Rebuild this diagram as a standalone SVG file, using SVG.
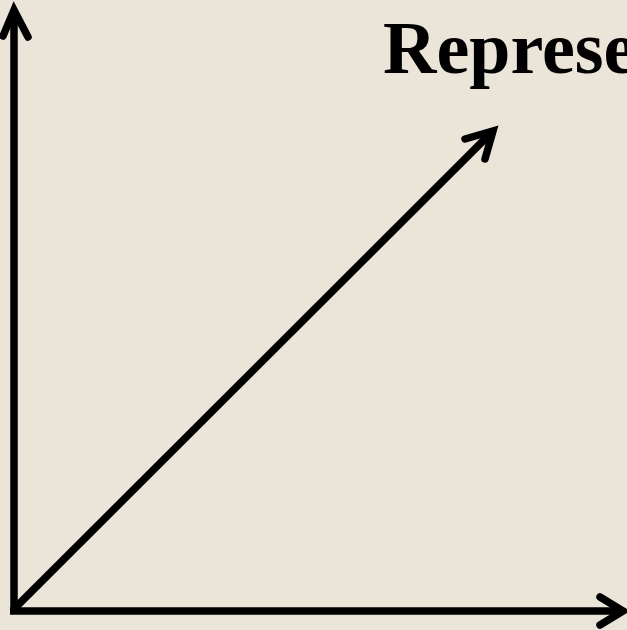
<svg xmlns="http://www.w3.org/2000/svg" width="627" height="630" viewBox="0 0 627 630">
<style>
.ax{stroke:#000;stroke-width:7.5;fill:none;stroke-linecap:round;stroke-linejoin:miter}
.t{font-family:"Liberation Serif","Times New Roman",serif;font-weight:bold;font-size:74px;fill:#000}
</style>
<rect width="627" height="630" fill="#EAE4D9"/>
<g id="connectors">
<path class="ax" d="M14,614 L14,10" style="stroke-linecap:butt"/>
<path class="ax" d="M3,36 L14,10 L28,37"/>
<path class="ax" d="M10,611 L623,611" style="stroke-linecap:butt"/>
<path class="ax" d="M600,597 L623,611 L600,625"/>
<path class="ax" d="M15,608 L493,131" style="stroke-linecap:butt"/>
<path class="ax" d="M465,139 L493,131 L485,159"/>
</g>
<g id="title">
<text class="t" x="383" y="73">Represe</text>
</g>
</svg>
